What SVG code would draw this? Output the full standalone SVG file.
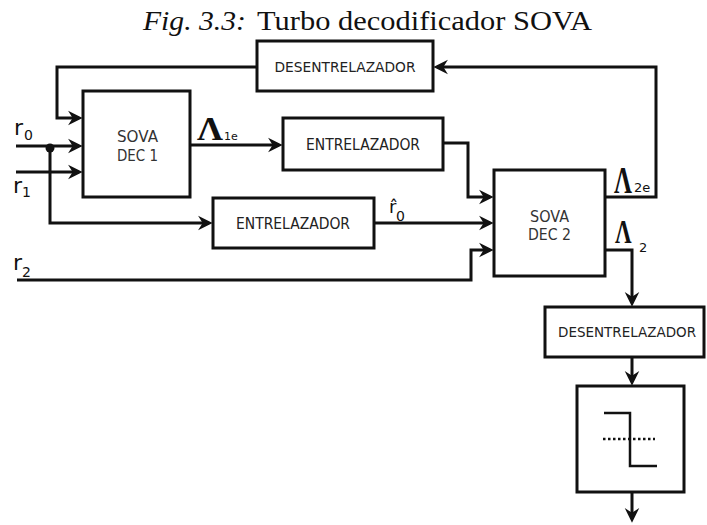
<svg xmlns="http://www.w3.org/2000/svg" width="707" height="525" viewBox="0 0 707 525">
  <style>
    .box { fill: #fff; stroke: #111; stroke-width: 3; }
    .wire { fill: none; stroke: #111; stroke-width: 3; }
    .lbl { font-family: "DejaVu Sans", Verdana, sans-serif; font-size: 15px; fill: #222; text-anchor: middle; }
    .lbl14 { font-size: 14px; }
    .dec { font-family: "DejaVu Sans", Verdana, sans-serif; font-size: 16px; fill: #333; text-anchor: middle; }
    .sig { font-family: "DejaVu Sans", Verdana, sans-serif; fill: #111; }
    .lam { font-family: "Liberation Serif", "Times New Roman", serif; font-weight: bold; fill: #111; }
    .title { font-family: "Liberation Serif", "Times New Roman", serif; font-size: 27px; fill: #111; }
  </style>
  <defs>
    <marker id="arrow" markerUnits="userSpaceOnUse" markerWidth="20" markerHeight="20" viewBox="-18 -10 22 20" refX="-4" refY="0" orient="auto">
      <path d="M0,0 L-16,-8 L-11,0 L-16,8 Z" fill="#111"/>
    </marker>
  </defs>

  <rect width="707" height="525" fill="#fff"/>

  <!-- caption -->
  <text class="title" x="143" y="30" font-style="italic" textLength="103" lengthAdjust="spacingAndGlyphs">Fig. 3.3:</text>
  <text class="title" x="257" y="30" textLength="335" lengthAdjust="spacingAndGlyphs">Turbo decodificador SOVA</text>

  <!-- connectors -->
  <g id="connectors">
    <!-- extrinsic info of DEC 2 fed back through the deinterleaver -->
    <polyline class="wire" points="605,197 656,197 656,67 437,67" marker-end="url(#arrow)"/>
    <polyline class="wire" points="257,67 57,67 57,118 79,118" marker-end="url(#arrow)"/>
    <!-- channel inputs -->
    <polyline class="wire" points="16,146 79,146" marker-end="url(#arrow)"/>
    <polyline class="wire" points="16,172 79,172" marker-end="url(#arrow)"/>
    <polyline class="wire" points="50,146 50,223 209,223" marker-end="url(#arrow)"/>
    <circle cx="50" cy="148" r="4.5" fill="#111"/>
    <!-- DEC 1 to interleaver -->
    <polyline class="wire" points="190,145 279,145" marker-end="url(#arrow)"/>
    <polyline class="wire" points="443,143 468,143 468,197 490,197" marker-end="url(#arrow)"/>
    <polyline class="wire" points="374,223 490,223" marker-end="url(#arrow)"/>
    <polyline class="wire" points="17,280 471,280 471,250 490,250" marker-end="url(#arrow)"/>
    <!-- output chain -->
    <polyline class="wire" points="605,250 632,250 632,303" marker-end="url(#arrow)"/>
    <polyline class="wire" points="632,357 632,382" marker-end="url(#arrow)"/>
    <polyline class="wire" points="632,492 632,519" marker-end="url(#arrow)"/>
  </g>

  <!-- signal labels -->
  <g id="labels">
    <text class="sig" x="14" y="135" font-size="22">r</text>
    <text class="sig" x="24" y="140" font-size="14">0</text>
    <text class="sig" x="13" y="193" font-size="22">r</text>
    <text class="sig" x="22" y="197" font-size="14">1</text>
    <text class="sig" x="13" y="270" font-size="22">r</text>
    <text class="sig" x="22" y="277" font-size="14">2</text>
    <text class="sig" x="389" y="213" font-size="18">r̂</text>
    <text class="sig" x="396" y="221" font-size="14">0</text>
    <text class="lam" x="197" y="140" font-size="33" textLength="26" lengthAdjust="spacingAndGlyphs">Λ</text>
    <text class="sig" x="224" y="140" font-size="11">1e</text>
    <text class="lam" transform="translate(614,193) scale(0.66,1)" font-size="38">Λ</text>
    <text class="sig" x="634" y="192" font-size="13">2e</text>
    <text class="lam" transform="translate(615,243) scale(0.7,1)" font-size="33">Λ</text>
    <text class="sig" x="639" y="252" font-size="13">2</text>
  </g>

  <!-- blocks -->
  <g id="deint-top">
    <rect class="box" x="257" y="41" width="176" height="50"/>
    <text class="lbl lbl14" x="345" y="72" textLength="141" lengthAdjust="spacingAndGlyphs">DESENTRELAZADOR</text>
  </g>
  <g id="sova-dec1">
    <rect class="box" x="83" y="91" width="107" height="106"/>
    <text class="dec" x="137.5" y="142" textLength="41" lengthAdjust="spacingAndGlyphs">SOVA</text>
    <text class="dec" x="137.5" y="161" textLength="41" lengthAdjust="spacingAndGlyphs">DEC 1</text>
  </g>
  <g id="inter-1">
    <rect class="box" x="283" y="118" width="160" height="52"/>
    <text class="lbl" x="363" y="150" textLength="114" lengthAdjust="spacingAndGlyphs">ENTRELAZADOR</text>
  </g>
  <g id="inter-2">
    <rect class="box" x="213" y="198" width="161" height="50"/>
    <text class="lbl" x="293" y="229" textLength="114" lengthAdjust="spacingAndGlyphs">ENTRELAZADOR</text>
  </g>
  <g id="sova-dec2">
    <rect class="box" x="494" y="170" width="111" height="106"/>
    <text class="dec" x="549.5" y="222" textLength="39" lengthAdjust="spacingAndGlyphs">SOVA</text>
    <text class="dec" x="549.5" y="240" textLength="43" lengthAdjust="spacingAndGlyphs">DEC 2</text>
  </g>
  <g id="deint-out">
    <rect class="box" x="545" y="307" width="159" height="50"/>
    <text class="lbl lbl14" x="627" y="337" textLength="138" lengthAdjust="spacingAndGlyphs">DESENTRELAZADOR</text>
  </g>
  <g id="hard-decision">
    <rect class="box" x="577" y="386" width="107" height="106"/>
    <polyline points="604,413 630,413 630,466 657,466" fill="none" stroke="#111" stroke-width="2.5"/>
    <line x1="603" y1="439" x2="655" y2="439" stroke="#111" stroke-width="2.5" stroke-dasharray="2.5 2.5"/>
  </g>
</svg>
